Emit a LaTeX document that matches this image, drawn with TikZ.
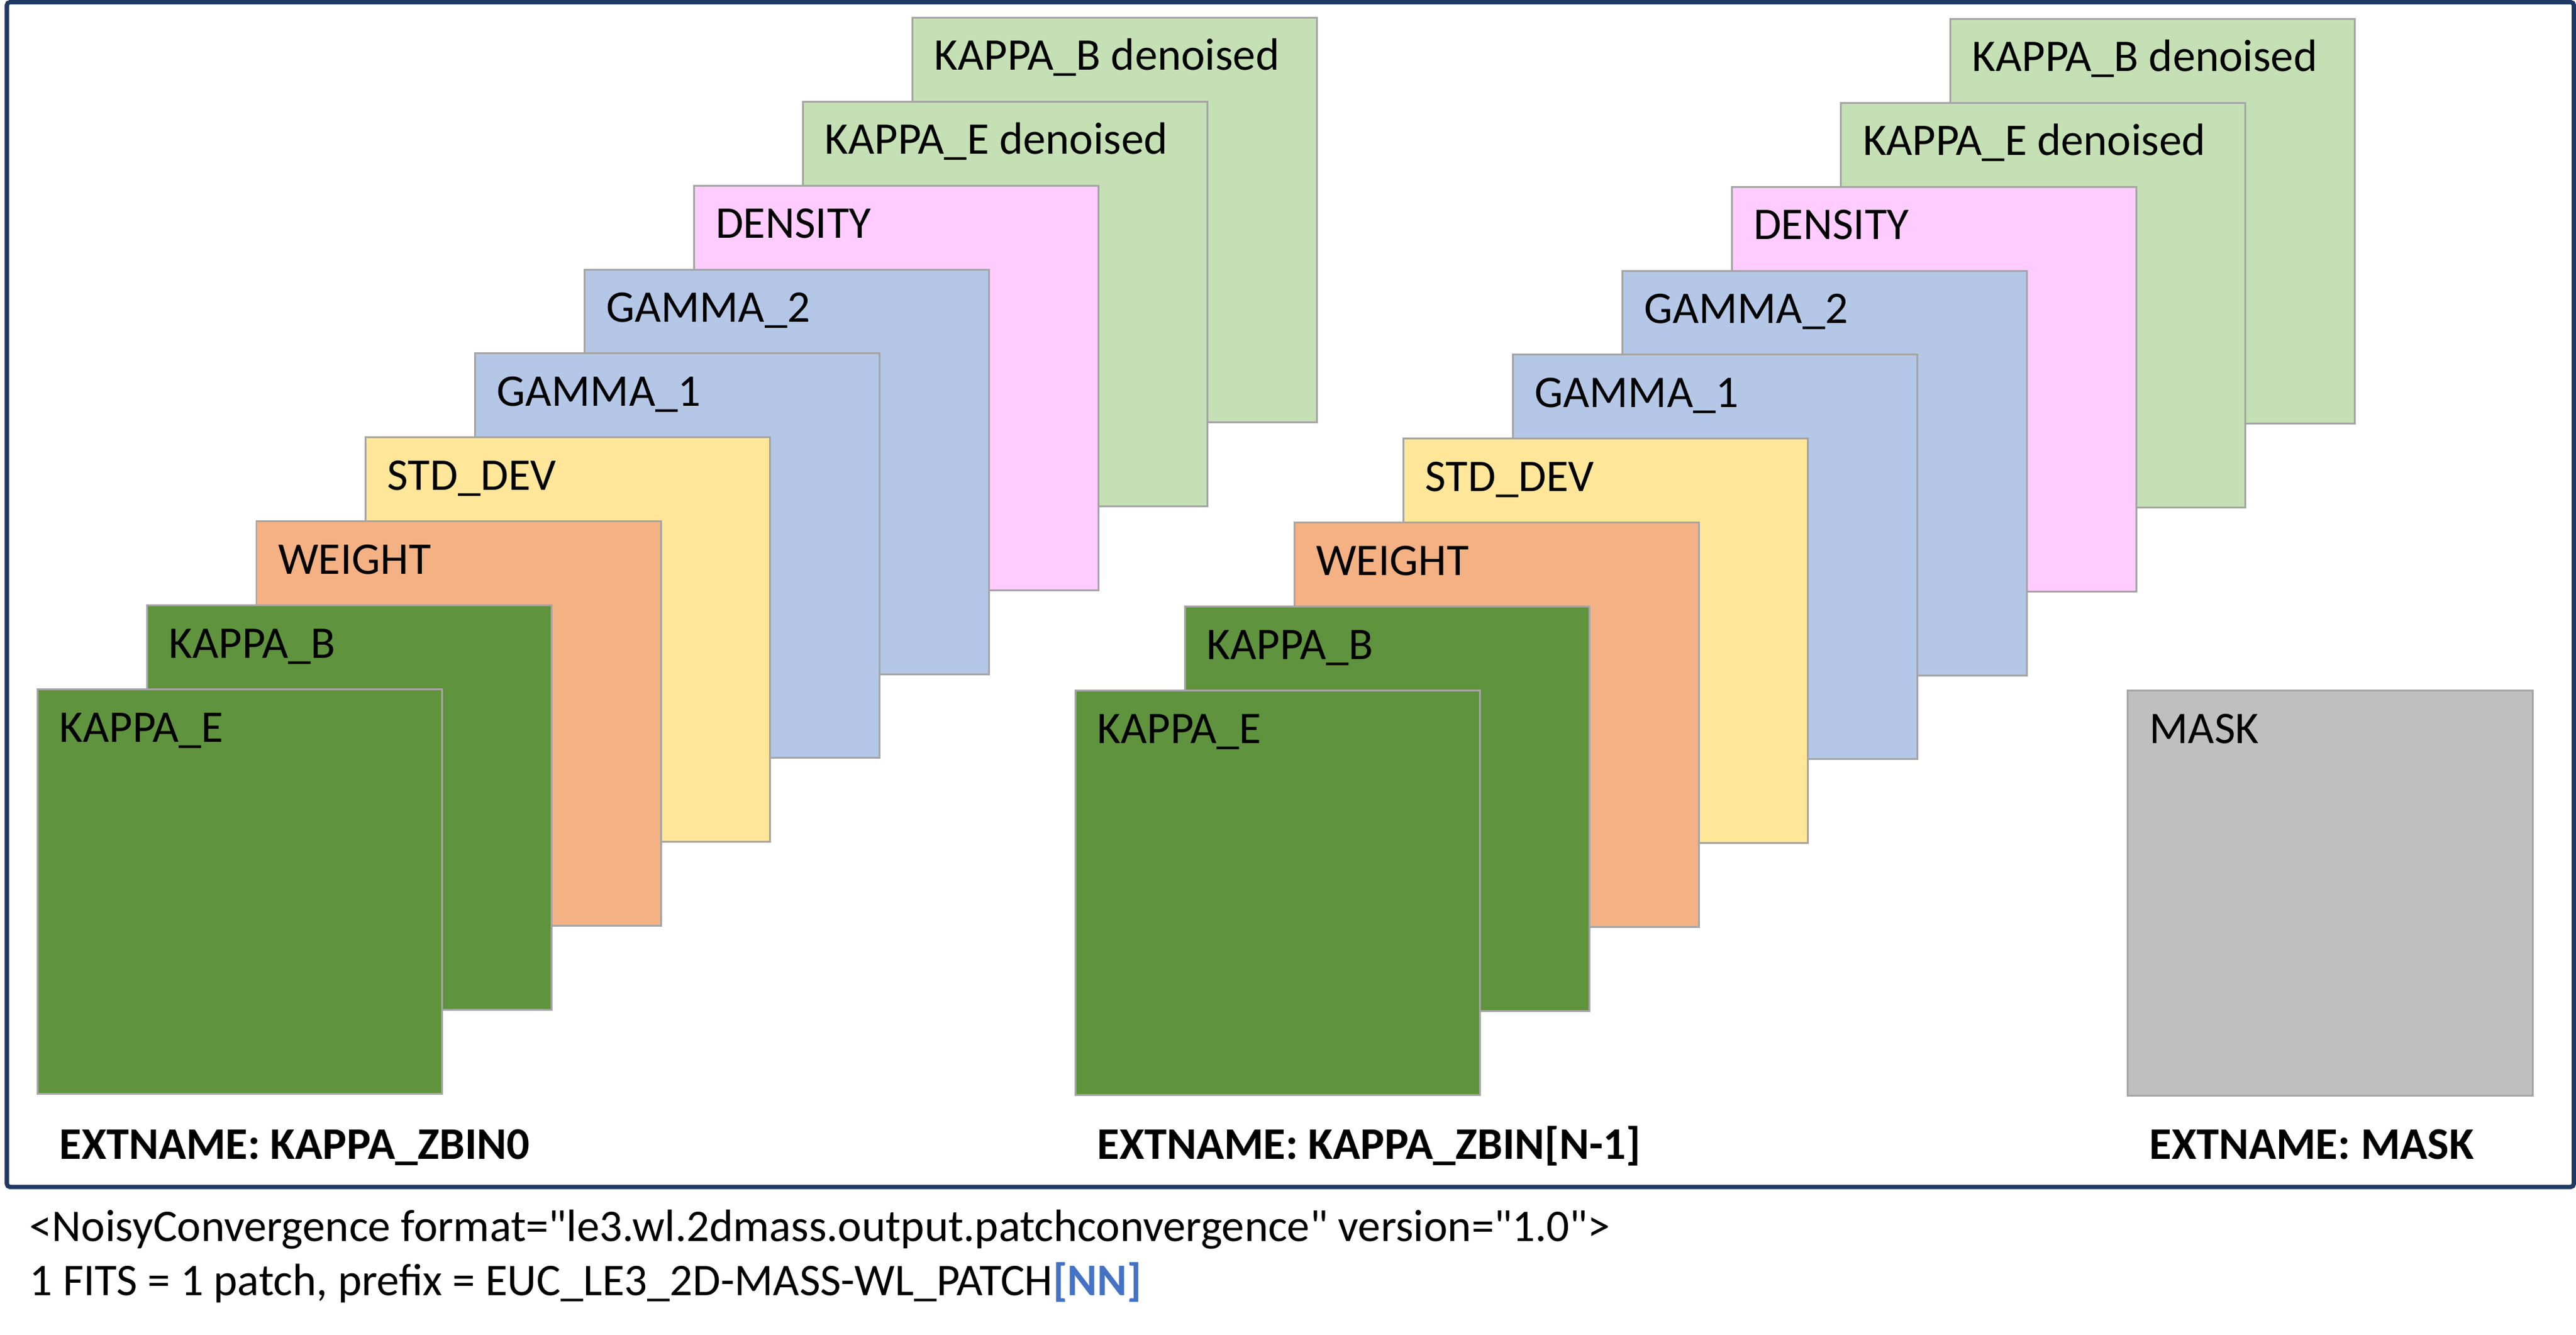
\documentclass[tikz,border=0pt]{standalone}
\usepackage{fontspec}
\setmainfont{Carlito}
\newfontfamily\capfont{Carlito}

\definecolor{kappagreen}{HTML}{60933D}
\definecolor{denoisedgreen}{HTML}{C5E0B4}
\definecolor{densitypink}{HTML}{FFCCFF}
\definecolor{gammablue}{HTML}{B4C7E7}
\definecolor{stdyellow}{HTML}{FFE699}
\definecolor{weightorange}{HTML}{F4B183}
\definecolor{maskgray}{HTML}{BFBFBF}
\definecolor{sheetedge}{HTML}{A5A5A5}
\definecolor{framenavy}{HTML}{1F3864}
\definecolor{nnblue}{HTML}{4472C4}

\tikzset{
  sheet/.style={draw=sheetedge, line width=0.85pt, minimum size=6.5cm, inner sep=0pt, anchor=north west},
  tag/.style={anchor=base west, inner sep=0pt, font=\fontsize{20.7}{25}\selectfont},
  extname/.style={tag, font=\fontsize{20.7}{25}\selectfont\bfseries},
  caption/.style={tag, font=\capfont\fontsize{20.7}{25}\selectfont},
  frame/.style={draw=framenavy, line width=0.07cm, rounded corners=0.05cm}
}

\begin{document}
\begin{tikzpicture}
  \useasboundingbox (0,0) rectangle (41.40,-21.44);
  \draw[frame] (0.11,-0.035) rectangle (41.365,-19.07);
  % two stacks of HDUs, back sheet first
  \foreach \g/\x/\y in {l/0.59/-11.06, r/17.27/-11.08}
    \foreach \i/\c/\t in {8/denoisedgreen/KAPPA\_B denoised, 7/denoisedgreen/KAPPA\_E denoised,
        6/densitypink/DENSITY, 5/gammablue/GAMMA\_2, 4/gammablue/GAMMA\_1,
        3/stdyellow/STD\_DEV, 2/weightorange/WEIGHT, 1/kappagreen/KAPPA\_B, 0/kappagreen/KAPPA\_E}{
      \node[sheet, fill=\c] (\g\i) at ({\x+1.7575*\i},{\y+1.349*\i}) {};
      \node[tag] (\g\i-t) at ([shift={(0.36,-0.86)}]\g\i.north west) {\t};
    }
  \node[sheet, fill=maskgray, minimum size=6.51cm] (mask) at (34.18,-11.08) {};
  \node[tag] (mask-t) at ([shift={(0.36,-0.86)}]mask.north west) {MASK};
  % extension names
  \node[extname] (ext0) at (0.95,-18.62) {EXTNAME: KAPPA\_ZBIN0};
  \node[extname] (ext1) at (17.63,-18.62) {EXTNAME: KAPPA\_ZBIN[N-1]};
  \node[extname] (ext2) at (34.54,-18.62) {EXTNAME: MASK};
  % caption lines
  \node[caption] (fmt) at (0.47,-19.94) {<NoisyConvergence format="le3.wl.2dmass.output.patchconvergence" version="1.0">};
  \node[caption] (pfx) at (0.47,-20.81) {1 FITS = 1 patch, prefix = EUC\_LE3\_2D-MASS-WL\_PATCH\textcolor{nnblue}{\bfseries[NN]}};
\end{tikzpicture}
\end{document}
